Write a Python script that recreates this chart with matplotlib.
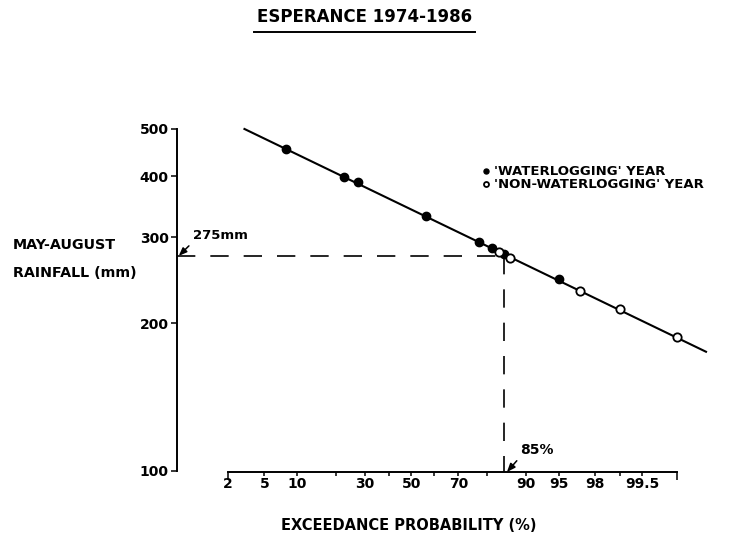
from statistics import NormalDist

import matplotlib
matplotlib.use("Agg")
import matplotlib.pyplot as plt
from matplotlib.lines import Line2D
from matplotlib.ticker import NullLocator

plt.rcParams["font.family"] = ["DejaVu Sans"]
plt.rcParams["font.weight"] = "bold"

# --- データ ---
WET_P = [8, 22.5, 27.5, 56.5, 77.5, 81.5, 85, 95]          # 'waterlogging' year
WET_MM = [454, 399, 390, 332, 294, 286, 277, 246]
DRY_P = [83.5, 86.5, 97, 99, 99.85]                          # 'non-waterlogging' year
DRY_MM = [280, 272, 233, 214, 188]
FIT_P = [3.1, 99.95]
FIT_MM = [500, 175]
THRESH_P = 85
THRESH_MM = 275

X_TICKS = [2, 5, 10, 20, 30, 40, 50, 60, 70, 80, 90, 95, 98, 99, 99.5, 99.85]
X_LABELS = ["2", "5", "10", "", "30", "", "50", "", "70", "", "90", "95", "98", "", "99.5", ""]
Y_TICKS = [100, 200, 300, 400, 500]

W, H = 751, 539
XLIM = (-2.62, 3.4)
YLIM = (99.3, 521.6)


def z(p):
    """超過確率(%) -> 正規確率スケール"""
    return NormalDist().inv_cdf(p / 100)


fig = plt.figure(figsize=(W / 100, H / 100), dpi=100)
ax = fig.add_axes([177 / W, 1 - 472 / H, 538.8 / W, 352 / H])
ax.set_yscale("log")
ax.set_xlim(*XLIM)
ax.set_ylim(*YLIM)

# 回帰線と点
ax.plot([z(p) for p in FIT_P], FIT_MM, color="black", lw=1.5, zorder=2)
ax.plot([z(p) for p in WET_P], WET_MM, "o", ms=6, color="black", zorder=3,
        label="'WATERLOGGING' YEAR")
ax.plot([z(p) for p in DRY_P], DRY_MM, "o", ms=6, mfc="white", mec="black", mew=1.3,
        zorder=3, label="'NON-WATERLOGGING' YEAR")

# 275mm / 85% の破線
ax.plot([XLIM[0], z(THRESH_P)], [THRESH_MM, THRESH_MM], color="black", lw=1.2,
        dashes=(11, 9), zorder=1)
ax.plot([z(THRESH_P), z(THRESH_P)], [THRESH_MM, YLIM[0]], color="black", lw=1.2,
        dashes=(11, 9), zorder=1)

arrow = dict(arrowstyle="-|>,head_length=0.5,head_width=0.2", color="black", lw=1.1,
             shrinkA=1, shrinkB=0, relpos=(0, 0))
ax.annotate("275mm", xy=(XLIM[0] + 0.02, THRESH_MM), xytext=(10, 12),
            textcoords="offset points", ha="left", va="baseline", fontsize=9.5,
            arrowprops=arrow, annotation_clip=False)
ax.annotate("85%", xy=(z(THRESH_P) + 0.03, YLIM[0]), xytext=(9.5, 13),
            textcoords="offset points", ha="left", va="baseline", fontsize=10,
            arrowprops=arrow, annotation_clip=False)

# 軸
for side in ("top", "right"):
    ax.spines[side].set_visible(False)
ax.spines["left"].set_bounds(Y_TICKS[0], Y_TICKS[-1])
ax.spines["bottom"].set_bounds(z(X_TICKS[0]), z(X_TICKS[-1]))
for side in ("left", "bottom"):
    ax.spines[side].set_linewidth(1.4)

ax.set_yticks(Y_TICKS, [str(v) for v in Y_TICKS])
ax.yaxis.set_minor_locator(NullLocator())
ax.tick_params(axis="y", length=4.5, width=1.1, pad=1.5, labelsize=10)

ax.set_xticks([z(X_TICKS[0]), z(X_TICKS[-1])], [X_LABELS[0], X_LABELS[-1]])
ax.set_xticks([z(p) for p in X_TICKS[1:-1]], X_LABELS[1:-1], minor=True)
ax.tick_params(axis="x", which="major", length=5.5, width=1.1, pad=-1.9, labelsize=10)
ax.tick_params(axis="x", which="minor", length=3, width=1.1, pad=0.6, labelsize=10)

leg = ax.legend(loc="center left", bbox_to_anchor=(480.2 / W, 1 - 178.4 / H),
                bbox_transform=fig.transFigure, frameon=False, fontsize=9.5,
                handlelength=0.85, handletextpad=0.2, borderpad=0, borderaxespad=0,
                labelspacing=0, markerscale=0.6)

# タイトルと軸ラベル
title = fig.text(364.5 / W, 1 - 17 / H, "ESPERANCE 1974-1986", ha="center", va="center",
                 fontsize=12)
fig.text(13 / W, 1 - 245 / H, "MAY-AUGUST", ha="left", va="center", fontsize=10.3)
fig.text(13 / W, 1 - 273 / H, "RAINFALL (mm)", ha="left", va="center", fontsize=10.3)
fig.text(409 / W, 1 - 525 / H, "EXCEEDANCE PROBABILITY (%)", ha="center", va="center",
         fontsize=10.5)

# タイトルの下線
fig.canvas.draw()
bb = title.get_window_extent().transformed(fig.transFigure.inverted())
fig.add_artist(Line2D([bb.x0 - 0.004, bb.x1 + 0.004], [1 - 31.5 / H] * 2,
                      transform=fig.transFigure, color="black", lw=1.4))

fig.savefig("out.png", dpi=100)
